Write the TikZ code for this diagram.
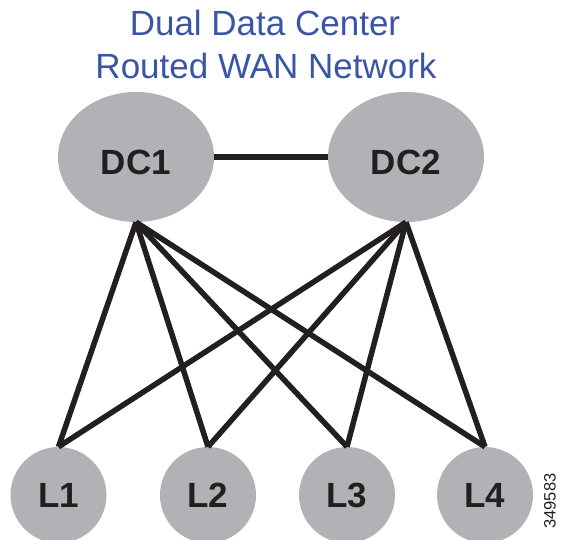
\documentclass[tikz,border=0pt]{standalone}
\usepackage{fontspec}
\setmainfont{Liberation Sans}
\usetikzlibrary{shapes.geometric}
\definecolor{titleblue}{HTML}{3A55A6}
\definecolor{nodegray}{HTML}{B1B2B6}
\definecolor{linek}{HTML}{231F20}
\tikzset{
  dcnode/.style={ellipse, fill=nodegray, minimum width=156pt, minimum height=130pt, inner sep=0pt, text height=34pt, text depth=0pt, font=\fontsize{35}{40}\selectfont\bfseries, text=linek},
  lnode/.style={circle, fill=nodegray, minimum size=96pt, inner sep=0pt, font=\fontsize{35}{40}\selectfont\bfseries, text=linek},
  link/.style={draw=linek, line width=5.5pt},
  titletext/.style={font=\fontsize{35}{40}\selectfont, text=titleblue, anchor=base, inner sep=0pt},
}
\begin{document}
\begin{tikzpicture}[x=1pt, y=-1pt]
\useasboundingbox (0,0) rectangle (561,539);
\node[titletext] (t1) at (265,35) {Dual Data Center};
\node[titletext] (t2) at (266,78) {Routed WAN Network};
\node[dcnode] (DC1) at (136,157) {DC1};
\node[dcnode] (DC2) at (406,157) {DC2};
\node[lnode] (L1) at (58.5,495) {L1};
\node[lnode] (L2) at (208,495) {L2};
\node[lnode] (L3) at (347,495) {L3};
\node[lnode] (L4) at (485,495) {L4};
\draw[link] (DC1.east) -- (DC2.west);
\foreach \d in {DC1,DC2}{
  \foreach \l in {L1,L2,L3,L4}{
    \draw[link] (\d.south) -- (\l.north);
  }
}
\node[rotate=90, font=\fontsize{16.5}{18}\selectfont, text=linek, inner sep=0pt] (num) at (550,501) {349583};
\end{tikzpicture}
\end{document}
